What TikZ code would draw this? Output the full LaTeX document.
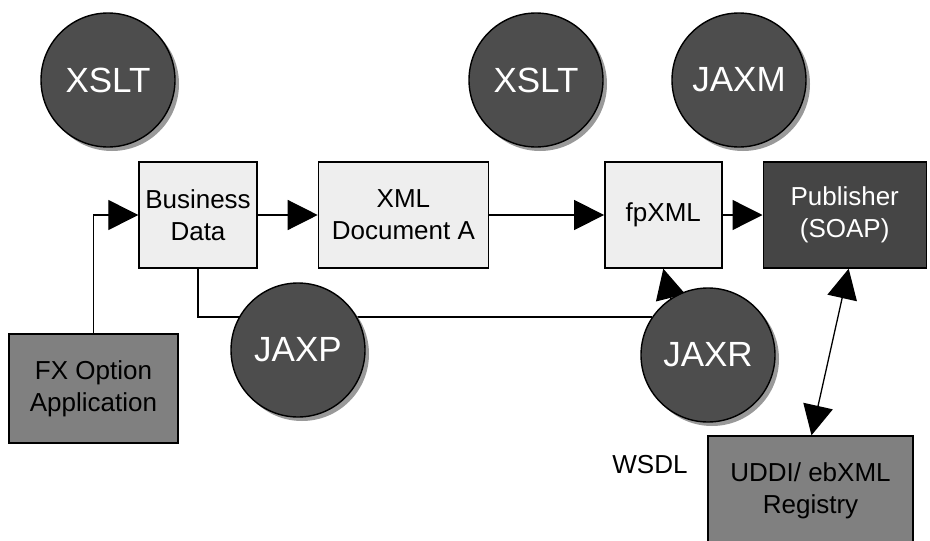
\documentclass[tikz,border=0pt]{standalone}
\usepackage{fontspec}
\setmainfont{Liberation Sans}
\usepackage{tikz}
\usetikzlibrary{arrows.meta,positioning,shadows,backgrounds}
\definecolor{boxlight}{HTML}{EEEEEE}
\definecolor{boxmid}{HTML}{808080}
\definecolor{boxdark}{HTML}{454545}
\definecolor{bubble}{HTML}{4D4D4D}
\definecolor{shade}{HTML}{999999}

\begin{document}
\begin{tikzpicture}[
    x=1pt, y=-1pt,
    stage/.style={draw, line width=1.4pt, fill=boxlight, minimum height=106pt, inner sep=0pt, align=center, font=\fontsize{26}{32}\selectfont},
    system/.style={stage, fill=boxmid, minimum height=109pt},
    api/.style={circle, draw, line width=1.4pt, fill=bubble, text=white, minimum size=134pt, inner sep=0pt, font=\fontsize{35}{40}\selectfont, drop shadow={shadow xshift=4pt, shadow yshift=-4pt, fill=shade, opacity=1}},
    flow/.style={-{Triangle[length=30pt, width=30pt]}, line width=1.3pt},
    twoway/.style={{Triangle[length=30pt, width=30pt]}-{Triangle[length=30pt, width=30pt]}, line width=1.3pt}
]
    \clip (0,0) rectangle (930,541);

    \node[stage, minimum width=118pt] (business) at (198,215) {Business\\Data};
    \node[stage, minimum width=170pt, right=60pt of business] (xmldoc) {XML\\Document A};
    \node[stage, minimum width=117pt, right=115pt of xmldoc] (fpxml) {fpXML};
    \node[stage, fill=boxdark, text=white, minimum width=163pt, right=40pt of fpxml] (publisher) {Publisher\\(SOAP)};

    \node[system, minimum width=169pt] (fxapp) at (93.5,388.5) {FX Option\\Application};
    \node[system, minimum width=205pt, minimum height=110pt] (uddi) at (810.5,491) {UDDI/ ebXML\\Registry};
    \node[font=\fontsize{26}{32}\selectfont] (wsdl) at (650,465) {WSDL};

    \node[api] (xsltin) at (108,80) {XSLT};
    \node[api] (xsltout) at (536,80) {XSLT};
    \node[api] (jaxm) at (739,80) {JAXM};
    \node[api] (jaxp) at (298,350) {JAXP};
    \node[api] (jaxr) at (708,355) {JAXR};

    \begin{scope}[on background layer]
        \draw[flow] (fxapp.north) |- (business.west);
        \draw[flow] (business) -- (xmldoc);
        \draw[flow] (xmldoc) -- (fpxml);
        \draw[flow] (fpxml) -- (publisher);
        \draw[line width=1.3pt] (business.south) |- (jaxr.146);
        \draw[flow] ([xshift=-23pt]jaxr.center) -- (fpxml.south);
        \draw[twoway] ([xshift=4pt]publisher.south) -- ([xshift=1pt]uddi.north);
    \end{scope}
\end{tikzpicture}
\end{document}
